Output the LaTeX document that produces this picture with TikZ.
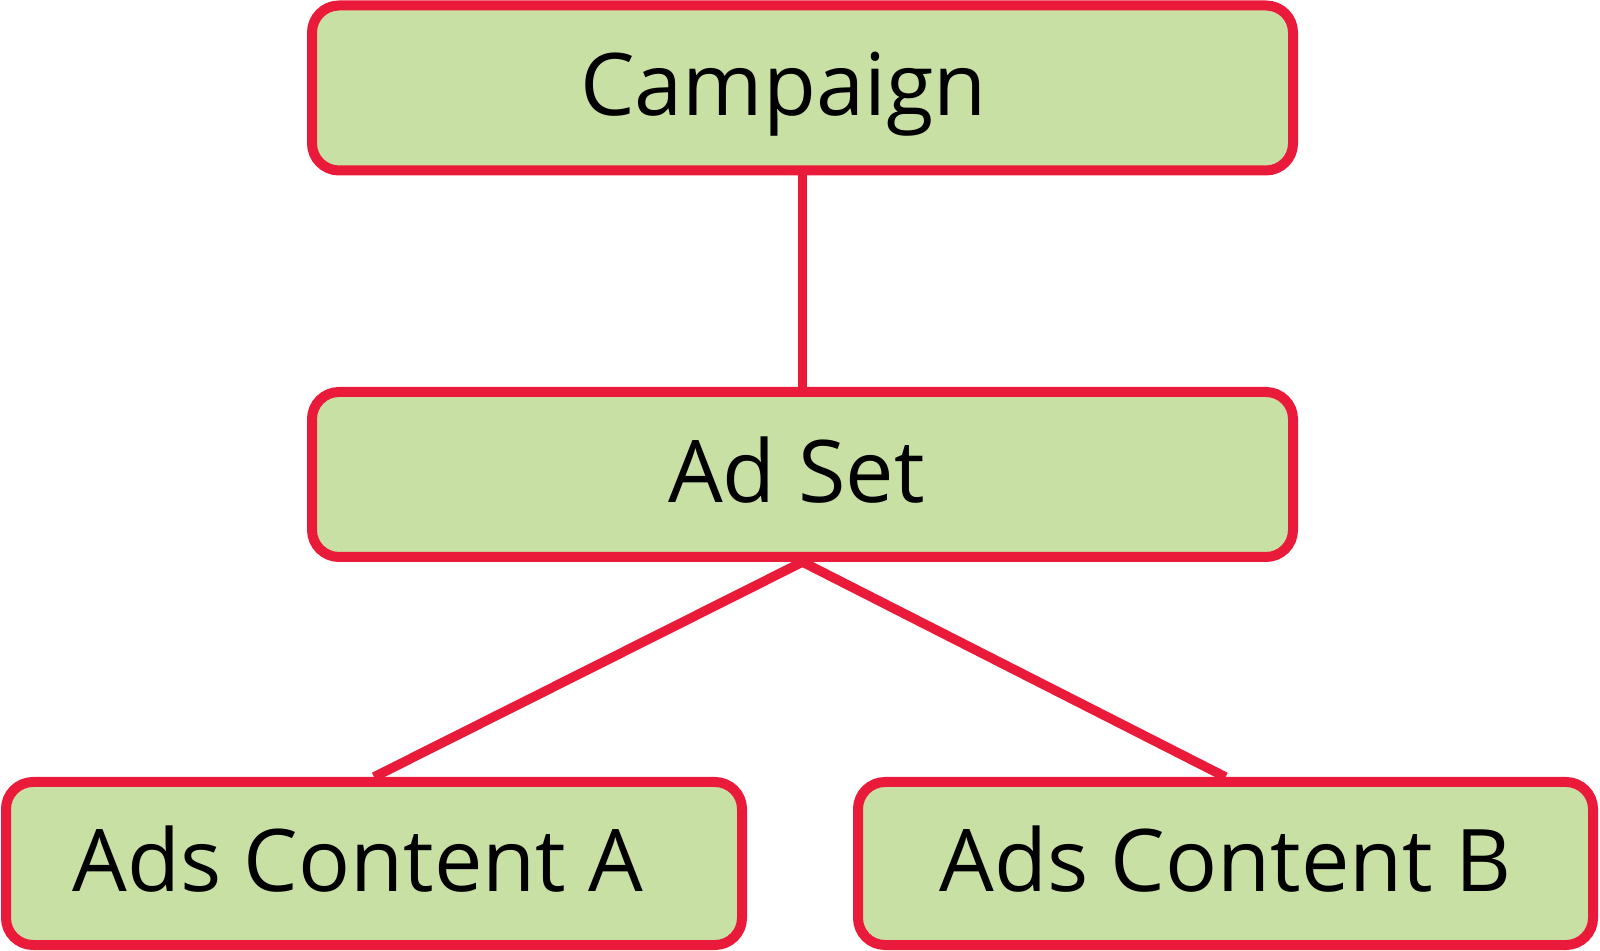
\documentclass[tikz,border=0pt]{standalone}
\usepackage{fontspec}
\setmainfont{Open Sans}
\usepackage{tikz}
\usetikzlibrary{positioning}
\definecolor{boxfill}{RGB}{201,224,165}
\definecolor{boxline}{RGB}{234,27,58}
\begin{document}
\begin{tikzpicture}[
	level/.style = {draw = boxline, fill = boxfill, line width = 1mm, rounded corners = .27cm, minimum height = 1.65cm},
	title/.style = {inner sep = 0pt, text height = .66cm, text depth = .1cm, font = \fontsize{24.6}{28}\selectfont},
	link/.style = {draw = boxline, line width = .95mm}]
	\useasboundingbox (0,0) rectangle (16,-9.51);
	\node[level, minimum width = 9.81cm] (camp) at (8.025,-.88) {};
	\node[level, minimum width = 9.81cm] (set) at (8.025,-4.745) {};
	\node[level, minimum width = 7.36cm, minimum height = 1.63cm] (adsa) at (3.74,-8.635) {};
	\node[level, minimum width = 7.35cm, minimum height = 1.63cm] (adsb) at (12.255,-8.635) {};
	\node[title, xshift = -.19cm] (campt) at (camp) {Campaign};
	\node[title, xshift = -.06cm] (sett) at (set) {Ad Set};
	\node[title, xshift = -.16cm] (adsat) at (adsa) {Ads Content A};
	\node[title] (adsbt) at (adsb) {Ads Content B};
	\draw[link] (camp.south) -- (set.north);
	\draw[link] (set.south) -- (adsa.north);
	\draw[link] (set.south) -- (adsb.north);
\end{tikzpicture}
\end{document}
